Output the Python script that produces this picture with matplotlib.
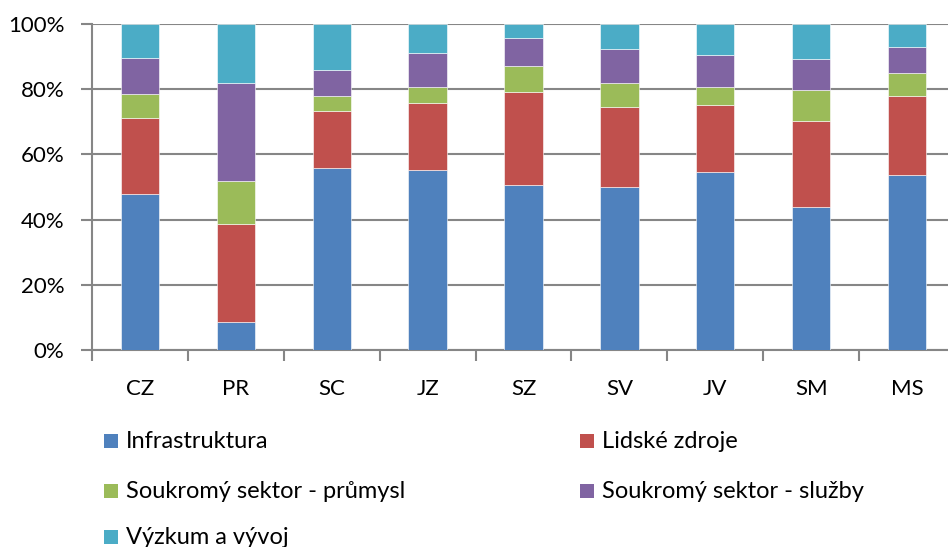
import matplotlib
matplotlib.use("Agg")
import matplotlib.pyplot as plt
from matplotlib.patches import Rectangle
from matplotlib.ticker import FuncFormatter

plt.rcParams['font.family'] = ['Lato', 'DejaVu Sans']

categories = ["CZ", "PR", "SC", "JZ", "SZ", "SV", "JV", "SM", "MS"]
infrastruktura = [47.9, 8.6, 55.7, 55.1, 50.5, 49.9, 54.5, 44.0, 53.8]
lidske_zdroje = [23.4, 30.1, 17.6, 20.8, 28.7, 24.7, 20.8, 26.1, 24.1]
prumysl = [7.3, 13.2, 4.6, 4.7, 7.9, 7.3, 5.3, 9.8, 7.3]
sluzby = [11.1, 30.0, 7.9, 10.4, 8.5, 10.5, 9.8, 9.3, 7.9]
vyzkum = [10.3, 18.1, 14.2, 9.0, 4.4, 7.6, 9.6, 10.8, 7.0]

series_names = ["Infrastruktura", "Lidské zdroje", "Soukromý sektor - průmysl",
                "Soukromý sektor - služby", "Výzkum a vývoj"]
series_values = [infrastruktura, lidske_zdroje, prumysl, sluzby, vyzkum]
colors = ["#4F81BD", "#C0504D", "#9BBB59", "#8064A2", "#4BACC6"]

W, H = 948, 547
fig = plt.figure(figsize=(W / 100, H / 100), dpi=100)
left, right, top, bottom = 92, 955, 24, 350
ax = fig.add_axes([left / W, 1 - bottom / H, (right - left) / W, (bottom - top) / H])

grid_c = "#868686"
x = list(range(len(categories)))
base = [0.0] * len(categories)
for name, vals, c in zip(series_names, series_values, colors):
    tot = [sum(v[i] for v in series_values) for i in range(len(categories))]
    frac = [vals[i] / tot[i] * 100 for i in range(len(categories))]
    ax.bar(x, frac, bottom=base, width=0.40, color=c, edgecolor="white", linewidth=0.4, zorder=3)
    base = [b + f for b, f in zip(base, frac)]

ax.set_xlim(-0.5, len(categories) - 0.5)
ax.set_ylim(0, 100)
ax.set_yticks([0, 20, 40, 60, 80, 100])
ax.yaxis.set_major_formatter(FuncFormatter(lambda v, p: f"{int(v)}%"))
ax.set_xticks(x)
ax.set_xticklabels(categories)
ax.set_xticks([i - 0.5 for i in range(len(categories) + 1)], minor=True)
ax.tick_params(axis='x', which='major', length=0, pad=21, labelsize=16, colors="black")
ax.tick_params(axis='x', which='minor', length=8, width=1.5, color=grid_c, direction='out')
ax.tick_params(axis='y', length=8, width=1.5, color=grid_c, direction='out', pad=12, labelsize=16)
ax.grid(axis='y', color=grid_c, linewidth=1.5, zorder=0)
for s in ["top", "right"]:
    ax.spines[s].set_visible(False)
for s in ["left", "bottom"]:
    ax.spines[s].set_color(grid_c)
    ax.spines[s].set_linewidth(1.5)

# legend (manual placement)
legend_pos = [(104, 441), (580, 441), (104, 491), (580, 491), (104, 537)]
sq = 14
for (lx, ly), name, c in zip(legend_pos, series_names, colors):
    fig.patches.append(Rectangle((lx / W, 1 - (ly + sq / 2) / H), sq / W, sq / H,
                                 transform=fig.transFigure, facecolor=c, edgecolor='none'))
    fig.text((lx + 22) / W, 1 - ly / H, name, fontsize=17, va='center', ha='left')

fig.savefig("out.png", dpi=100)
